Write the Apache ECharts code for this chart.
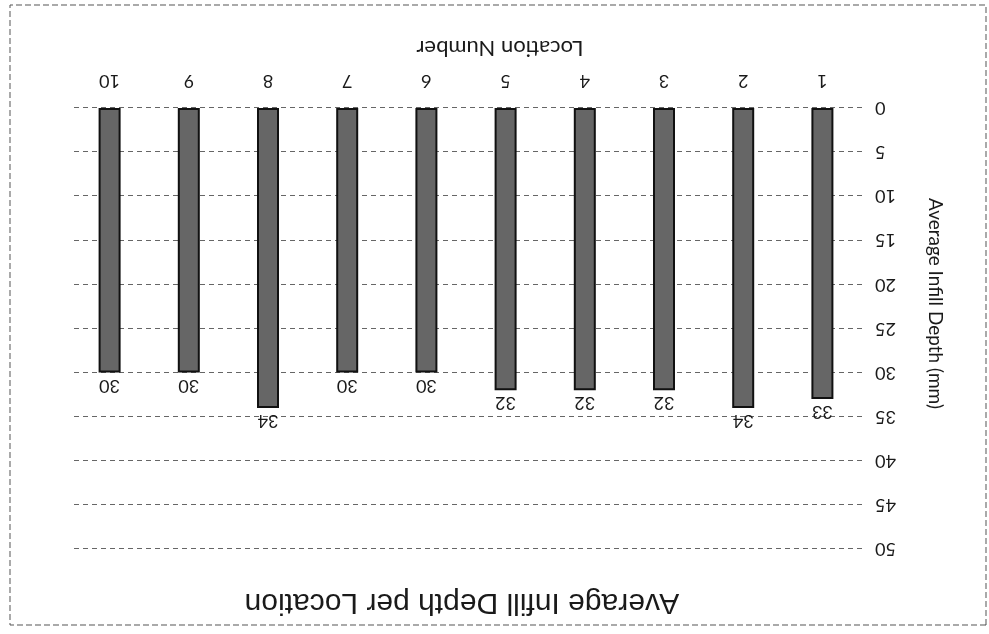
<!DOCTYPE html>
<html>
<head>
<meta charset="utf-8">
<script src="https://cdn.jsdelivr.net/npm/echarts@6/dist/echarts.min.js"></script>
<style>
  html, body { margin: 0; padding: 0; background: #fff; }
  /* the scanned reference is upside down, so the whole chart is turned over */
  #chart { width: 989px; height: 634px; transform: rotate(180deg); }
</style>
</head>
<body>
<div id="chart"></div>
<script>
  const locations = ['1', '2', '3', '4', '5', '6', '7', '8', '9', '10']
  const avgDepth = [33, 34, 32, 32, 32, 30, 30, 34, 30, 30]
  const depthTicks = [0, 50, 5]   // min, max, interval

  const chart = echarts.init(document.getElementById('chart'))

  chart.setOption({
    backgroundColor: '#fff',
    animation: false,
    title: {
      text: 'Average Infill Depth per Location',
      left: 522,
      top: 12,
      textAlign: 'center',
      textStyle: {
        fontFamily: 'Liberation Sans',
        fontSize: 30,
        fontWeight: 'normal',
        color: '#1a1a1a'
      }
    },
    graphic: [
      {
        type: 'rect',
        shape: { x: 3, y: 9, width: 976, height: 620 },
        style: { fill: 'none', stroke: '#555', lineWidth: 1, lineDash: [6, 3] }
      }
    ],
    grid: {
      left: 127,
      right: 70,
      top: 85,
      bottom: 108
    },
    xAxis: {
      type: 'category',
      data: locations,
      name: 'Location Number',
      nameLocation: 'middle',
      nameGap: 49,
      nameTextStyle: { fontFamily: 'Lato', fontSize: 22, color: '#1a1a1a', padding: [0, 68, 0, 0] },
      axisLine: { show: false },
      axisTick: { show: false },
      axisLabel: { fontFamily: 'Lato', fontSize: 18, color: '#1a1a1a', margin: 18 }
    },
    yAxis: {
      type: 'value',
      min: depthTicks[0],
      max: depthTicks[1],
      interval: depthTicks[2],
      name: 'Average Infill Depth (mm)',
      nameLocation: 'middle',
      nameRotate: 90,
      nameGap: 64,
      nameTextStyle: { fontFamily: 'Lato', fontSize: 19, color: '#1a1a1a', padding: [0, 50, 0, 0] },
      axisLine: { show: false },
      axisTick: { show: false },
      axisLabel: { fontFamily: 'Lato', fontSize: 18, color: '#1a1a1a', margin: 13 },
      splitLine: {
        lineStyle: { color: '#666', width: 1, type: [5, 4] }
      }
    },
    series: [
      {
        name: 'Average Infill Depth',
        type: 'bar',
        data: avgDepth,
        barWidth: 22,
        itemStyle: {
          color: '#666',
          borderColor: '#111',
          borderWidth: 2
        },
        label: {
          show: true,
          position: 'top',
          distance: 4,
          fontFamily: 'Lato',
          fontSize: 18,
          color: '#1a1a1a'
        }
      }
    ]
  })
</script>
</body>
</html>
